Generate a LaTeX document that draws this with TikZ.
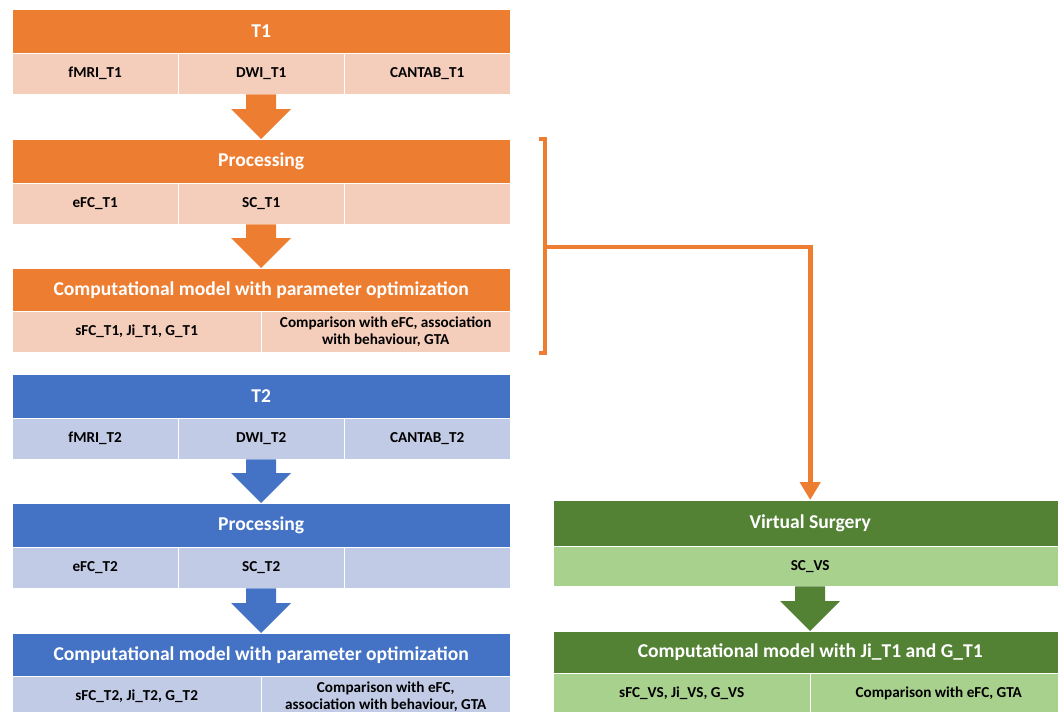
\documentclass[tikz,border=0pt]{standalone}
\usepackage{fontspec}
\setmainfont{Carlito}
\usetikzlibrary{arrows.meta,calc}
\definecolor{orH}{HTML}{ED7D31}
\definecolor{orL}{HTML}{F4CDBB}
\definecolor{blH}{HTML}{4472C4}
\definecolor{blL}{HTML}{C1CBE5}
\definecolor{grH}{HTML}{548235}
\definecolor{grL}{HTML}{A9D18E}
\newcommand\blkarrow[3]{\fill[#3] ($(#1.south)+(-15,0)$) -- ($(#1.south)+(15,0)$) -- ($(#2.north)+(15,-30)$) -- ($(#2.north)+(30,-30)$) -- (#2.north) -- ($(#2.north)+(-30,-30)$) -- ($(#2.north)+(-15,-30)$) -- cycle;}
\begin{document}
\begin{tikzpicture}[x=1pt,y=-1pt,
  hdr/.style={draw=white, line width=0.4pt, inner sep=0pt, anchor=north west, text=white, font=\fontsize{19.6}{22}\selectfont\bfseries},
  cell/.style={draw=white, line width=0.4pt, inner sep=0pt, anchor=north west, text=black, font=\fontsize{15.2}{17}\selectfont\bfseries, align=center},
  conn/.style={draw=orH, line width=4.8pt}]
\useasboundingbox (0,0) rectangle (1058,712);
\clip (0,0) rectangle (1058,712);
% ---------- T1 (orange) ----------
\node[hdr, fill=orH, minimum width=498pt, minimum height=44pt] (h1) at (12,9) {T1};
\node[cell, fill=orL, minimum width=166pt, minimum height=41pt] (c11) at (12,53) {fMRI\_T1};
\node[cell, fill=orL, minimum width=166pt, minimum height=41pt] (c12) at (178,53) {DWI\_T1};
\node[cell, fill=orL, minimum width=166pt, minimum height=41pt] (c13) at (344,53) {CANTAB\_T1};
\node[hdr, fill=orH, minimum width=498pt, minimum height=44pt] (h2) at (12,139) {Processing};
\node[cell, fill=orL, minimum width=166pt, minimum height=41pt] (c21) at (12,183) {eFC\_T1};
\node[cell, fill=orL, minimum width=166pt, minimum height=41pt] (c22) at (178,183) {SC\_T1};
\node[cell, fill=orL, minimum width=166pt, minimum height=41pt] (c23) at (344,183) {};
\node[hdr, fill=orH, minimum width=498pt, minimum height=43pt] (h3) at (12,268) {Computational model with parameter optimization};
\node[cell, fill=orL, minimum width=249pt, minimum height=41pt] (c31) at (12,311) {sFC\_T1, Ji\_T1, G\_T1};
\node[cell, fill=orL, minimum width=249pt, minimum height=41pt] (c32) at (261,311) {Comparison with eFC, association\\with behaviour, GTA};
\blkarrow{c12}{h2}{orH}
\blkarrow{c22}{h3}{orH}
% ---------- T2 (blue) ----------
\node[hdr, fill=blH, minimum width=498pt, minimum height=44pt] (h4) at (12,374) {T2};
\node[cell, fill=blL, minimum width=166pt, minimum height=41pt] (c41) at (12,418) {fMRI\_T2};
\node[cell, fill=blL, minimum width=166pt, minimum height=41pt] (c42) at (178,418) {DWI\_T2};
\node[cell, fill=blL, minimum width=166pt, minimum height=41pt] (c43) at (344,418) {CANTAB\_T2};
\node[hdr, fill=blH, minimum width=498pt, minimum height=44pt] (h5) at (12,503) {Processing};
\node[cell, fill=blL, minimum width=166pt, minimum height=41pt] (c51) at (12,547) {eFC\_T2};
\node[cell, fill=blL, minimum width=166pt, minimum height=41pt] (c52) at (178,547) {SC\_T2};
\node[cell, fill=blL, minimum width=166pt, minimum height=41pt] (c53) at (344,547) {};
\node[hdr, fill=blH, minimum width=498pt, minimum height=43pt] (h6) at (12,633) {Computational model with parameter optimization};
\node[cell, fill=blL, minimum width=249pt, minimum height=41pt] (c61) at (12,676) {sFC\_T2, Ji\_T2, G\_T2};
\node[cell, fill=blL, minimum width=249pt, minimum height=41pt] (c62) at (261,676) {Comparison with eFC,\\association with behaviour, GTA};
\blkarrow{c42}{h5}{blH}
\blkarrow{c52}{h6}{blH}
% ---------- Virtual surgery (green) ----------
\node[hdr, fill=grH, minimum width=514pt, minimum height=46pt] (h7) at (553,500) {Virtual Surgery};
\node[cell, fill=grL, minimum width=514pt, minimum height=40pt] (c71) at (553,546) {SC\_VS};
\node[hdr, fill=grH, minimum width=514pt, minimum height=42pt] (h8) at (553,631) {Computational model with Ji\_T1 and G\_T1};
\node[cell, fill=grL, minimum width=257pt, minimum height=41pt] (c81) at (553,673) {sFC\_VS, Ji\_VS, G\_VS};
\node[cell, fill=grL, minimum width=257pt, minimum height=41pt] (c82) at (810,673) {Comparison with eFC, GTA};
\blkarrow{c71}{h8}{grH}
% ---------- bracket and connector ----------
\coordinate (bt) at (545,139);
\coordinate (bb) at (545,353);
\coordinate (bm) at (545,247);
\draw[conn] ($(bt)+(-6,0)$) -- (bt) -- (bb) -- ($(bb)+(-6,0)$);
\draw[conn, -{Triangle[width=20pt,length=18pt]}] (bm) -| (h7.north);
\end{tikzpicture}
\end{document}
